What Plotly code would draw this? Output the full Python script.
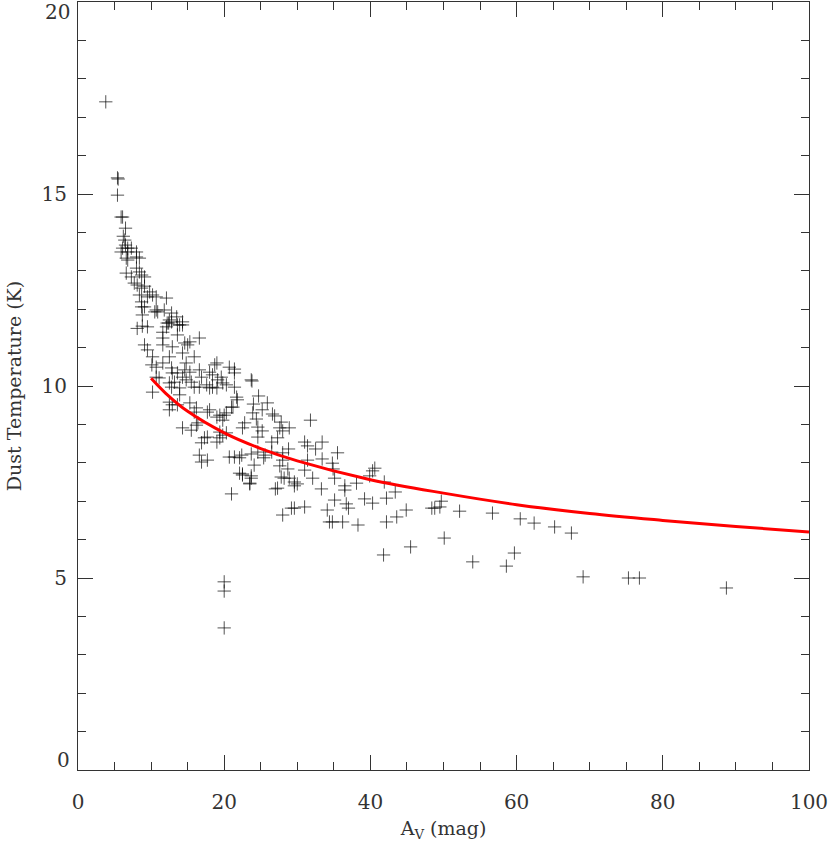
import plotly.graph_objects as go

# dust temperature vs extinction
av = [3.8, 5.4, 5.5, 5.4, 5.9, 6.1, 6.5, 6.2, 6.4, 6.5, 6.1, 6.8, 5.9, 6.8, 6.6, 7.3,
      8.0, 8.0, 8.4, 6.8, 6.6, 8.0, 8.4, 8.7, 9.1, 7.3, 7.7, 8.1, 9.1, 8.7,
      9.8, 10.2, 10.7, 9.5, 12.1, 8.4, 8.7, 8.7, 9.1, 8.8, 10.7, 10.5, 10.9, 11.8,
      12.8, 13.5, 12.5, 12.2, 13.6, 14.3, 12.1,
      8.1, 8.8, 9.5, 11.6, 12.4, 12.8, 13.9, 14.3,
      11.6, 13.6, 14.6, 15.3, 16.6, 9.1, 9.5, 11.6, 12.9, 15.0,
      10.2, 11.6, 12.5, 14.3, 15.9, 10.1, 10.7,
      14.8, 14.6, 15.3, 12.8, 12.9, 13.6, 14.3,
      16.6, 16.9, 18.0, 18.4, 19.0, 18.7, 20.7, 21.4, 21.4, 23.7,
      19.6, 19.1, 19.8, 20.3,
      10.7, 11.1, 12.5, 13.2, 12.8, 13.9, 14.8, 15.5, 15.9, 16.6, 17.6, 18.4, 18.0, 19.0, 21.4,
      10.2, 13.9, 12.5, 12.9, 13.6, 15.3, 12.5, 16.2, 15.9,
      21.7, 21.8, 21.2, 21.0,
      17.7, 18.0, 19.0, 19.4, 19.8, 20.0, 20.3,
      14.3, 15.5, 16.2, 16.4, 17.3, 17.7, 16.9,
      19.4, 19.4, 20.3, 19.8, 19.0, 16.6, 16.9, 17.7, 20.7, 21.4, 22.4,
      23.8, 24.7, 24.0, 25.9, 25.2, 26.6, 23.9, 26.9,
      22.8, 22.5, 24.4, 24.6, 25.2, 27.8, 27.6, 28.9, 28.0, 31.8,
      24.6, 26.5, 27.3,
      22.1, 23.7, 24.6, 25.6, 26.5, 28.0, 28.8,
      24.1, 25.4, 28.0, 27.6,
      31.0, 31.4, 32.5, 33.4, 35.5,
      31.4, 33.4, 34.8, 34.9,
      28.7, 28.9, 31.0, 32.1,
      22.5, 23.7, 23.5, 27.8, 28.2, 29.6, 30.0, 29.6, 27.3, 27.0,
      33.3, 35.1, 34.1, 29.2, 29.6, 31.0, 28.0, 34.4,
      35.1, 36.5, 36.5, 38.1, 36.7, 37.0, 34.8, 36.2, 38.3,
      39.9, 40.3, 40.6, 41.9, 39.2, 40.3, 42.2, 43.4, 42.2, 43.6, 41.8,
      44.9, 45.5, 48.4, 48.8, 49.5, 49.7, 50.1, 52.2, 54.0, 56.7, 58.6, 59.7,
      60.5, 62.4, 65.2, 67.5, 69.1, 75.3, 76.8, 88.7,
      22.1, 22.5, 23.7, 23.5, 21.0,
      20.0, 20.0, 20.0]
tdust = [17.4, 15.42, 15.39, 14.97, 14.4, 14.4, 14.11, 13.9, 13.8, 13.67, 13.59, 13.59, 13.49, 13.49, 13.33, 13.59,
         13.49, 13.36, 13.33, 13.28, 12.94, 13.07, 12.97, 12.89, 12.84, 12.84, 12.68, 12.63, 12.6, 12.55,
         12.45, 12.37, 12.32, 12.32, 12.29, 12.37, 12.19, 12.06, 12.06, 11.85, 11.98, 11.93, 11.93, 11.98,
         11.9, 11.8, 11.72, 11.64, 11.59, 11.59, 11.54,
         11.5, 11.56, 11.54, 11.4, 11.64, 11.67, 11.59, 11.67,
         11.25, 11.33, 11.12, 11.15, 11.25, 11.07, 10.94, 11.07, 11.02, 11.07,
         10.76, 10.6, 10.76, 10.86, 10.76, 10.55, 10.49,
         10.6, 10.42, 10.36, 10.47, 10.34, 10.34, 10.23,
         10.42, 10.23, 10.36, 10.29, 10.6, 10.55, 10.49, 10.44, 10.34, 10.16,
         10.23, 10.16, 10.08, 10.03,
         10.23, 10.21, 10.08, 10.1, 9.97, 9.95, 10.16, 10.1, 9.97, 9.97, 10.03, 9.97, 9.95, 9.95, 9.97,
         9.84, 9.77, 9.58, 9.51, 9.51, 9.56, 9.38, 9.43, 9.32,
         9.71, 9.64, 9.45, 9.45,
         9.32, 9.38, 9.19, 9.24, 9.11, 9.24, 9.30,
         8.91, 8.85, 8.98, 9.04, 8.65, 8.67, 8.52,
         8.80, 8.65, 8.78, 8.72, 8.54, 8.2, 8.02, 8.07, 8.15, 8.15, 8.2,
         10.13, 9.74, 9.53, 9.56, 9.38, 9.27, 9.30, 9.22,
         9.04, 8.91, 9.14, 8.93, 8.83, 9.06, 8.91, 8.91, 8.83, 9.11,
         8.67, 8.54, 8.65,
         8.13, 8.23, 8.28, 8.2, 8.28, 8.26, 8.36,
         7.94, 8.13, 8.07, 7.92,
         8.54, 8.44, 8.36, 8.54, 8.26,
         8.07, 8.1, 7.99, 7.84,
         7.84, 7.6, 7.81, 7.6,
         7.68, 7.6, 7.45, 7.63, 7.6, 7.5, 7.45, 7.4, 7.34, 7.32,
         7.32, 7.03, 6.77, 6.82, 6.82, 6.85, 6.64, 6.46,
         7.6, 7.4, 7.29, 7.47, 6.93, 6.82, 6.46, 6.46, 6.38,
         7.66, 7.79, 7.86, 7.5, 7.06, 6.95, 7.08, 7.24, 6.46, 6.59, 5.6,
         6.77, 5.81, 6.82, 6.82, 6.85, 7.0, 6.04, 6.74, 5.42, 6.69, 5.31, 5.65,
         6.54, 6.43, 6.33, 6.17, 5.03, 5.0, 5.0, 4.74,
         7.73, 7.71, 7.66, 7.47, 7.19,
         4.9, 4.66, 3.7]

# fitted curve
fit_av = [10, 12, 15, 20, 25, 30, 40, 50, 60, 70, 80, 90, 100]
fit_t = [10.2, 9.81, 9.34, 8.78, 8.37, 8.05, 7.56, 7.21, 6.91, 6.68, 6.5, 6.34, 6.2]

font = "DejaVu Serif"
ink = "#333333"

fig = go.Figure()
fig.add_trace(go.Scatter(x=av, y=tdust, mode="markers",
                         marker=dict(symbol="cross-thin", size=9.5,
                                     line=dict(width=1, color="rgba(0,0,0,0.68)"))))
fig.add_trace(go.Scatter(x=fit_av, y=fit_t, mode="lines", line_shape="spline",
                         line=dict(color="#ff0000", width=3)))

fig.update_xaxes(range=[0, 100], tickvals=[0, 20, 40, 60, 80, 100],
                 ticks="inside", ticklen=15, tickcolor=ink, tickwidth=1,
                 minor=dict(dtick=5, ticklen=8, ticks="inside", tickcolor=ink),
                 showline=True, linecolor=ink, linewidth=1, mirror="allticks",
                 showgrid=False, zeroline=False, ticklabelstandoff=14,
                 tickfont=dict(family=font, size=20, color=ink),
                 title=dict(text="A<sub>V</sub> (mag)", standoff=8,
                            font=dict(family=font, size=19, color=ink)))
fig.update_yaxes(range=[0, 20], tickvals=[5, 10, 15],
                 ticks="inside", ticklen=15, tickcolor=ink, tickwidth=1,
                 minor=dict(tick0=0, dtick=1, ticklen=8, ticks="inside", tickcolor=ink),
                 showline=True, linecolor=ink, linewidth=1, mirror="allticks",
                 showgrid=False, zeroline=False, ticklabelstandoff=6,
                 tickfont=dict(family=font, size=20, color=ink),
                 title=dict(text="Dust Temperature (K)", standoff=14,
                            font=dict(family=font, size=19, color=ink)))

fig.add_annotation(text="20", xref="paper", x=0, xanchor="right", xshift=-6,
                   yref="y", y=20, yanchor="top", yshift=4, showarrow=False,
                   font=dict(family=font, size=20, color=ink))
fig.add_annotation(text="0", xref="paper", x=0, xanchor="right", xshift=-6,
                   yref="y", y=0, yanchor="bottom", yshift=-4, showarrow=False,
                   font=dict(family=font, size=20, color=ink))

fig.update_layout(width=830, height=846, showlegend=False,
                  margin=dict(l=78, r=21, t=2, b=76, autoexpand=False),
                  plot_bgcolor="white", paper_bgcolor="white")

# drop the browser's default body margin so the figure sits at the page corner
fig.write_html("out.html", config={"displayModeBar": False},
               post_script="document.body.style.margin='0px';")
